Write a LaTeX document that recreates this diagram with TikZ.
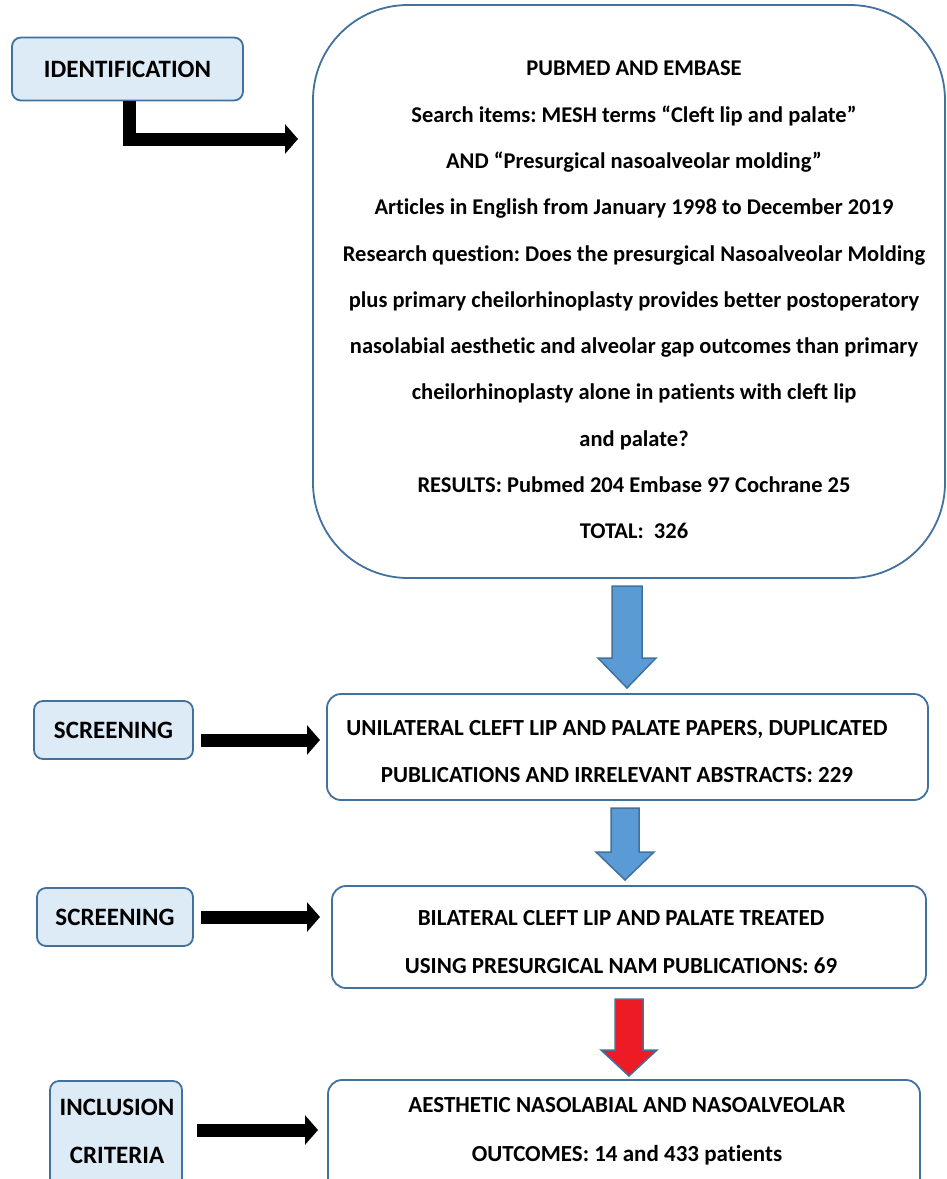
\documentclass[tikz,border=0pt]{standalone}
\usepackage{fontspec}
\setmainfont{Carlito}[Ligatures=NoCommon]
\usetikzlibrary{arrows.meta,calc}
\definecolor{bord}{HTML}{41719C}
\definecolor{lblue}{HTML}{DDEBF7}
\definecolor{ablue}{HTML}{5B9BD5}
\definecolor{ared}{HTML}{ED1C24}
\frenchspacing
\begin{document}
\begin{tikzpicture}[x=1pt,y=-1pt,
  lbl/.style={draw=bord, fill=lblue, rounded corners=9pt, line width=1.8pt, font=\fontsize{25}{48}\selectfont\bfseries, align=center, inner sep=0pt},
  wbox/.style={draw=bord, fill=white, rounded corners=14pt, line width=1.8pt, inner sep=0pt},
  btxt/.style={font=\fontsize{23}{47}\selectfont\bfseries, align=center, inner sep=0pt},
  mtxt/.style={font=\fontsize{22.5}{46.3}\selectfont\bfseries, align=center, inner sep=0pt},
  blk/.style={line width=13pt, -{Triangle[length=13pt,width=29pt]}, black},
  barrow/.style={draw=bord, line width=1.5pt, line join=miter}
]
\useasboundingbox (0,0) rectangle (947,1179);
\clip (0,0) rectangle (947,1179);
% label boxes
\node[lbl, minimum width=231, minimum height=63] (ident) at (127.5,69) {IDENTIFICATION};
\node[lbl, minimum width=159, minimum height=58] (scr1) at (113.5,730) {SCREENING};
\node[lbl, minimum width=156, minimum height=58] (scr2) at (115,917) {SCREENING};
\node[lbl, minimum width=132, minimum height=112] (incl) at (116,1137) {};
\node[btxt, font=\fontsize{25}{48}\selectfont\bfseries] (incltxt) at (117,1131) {INCLUSION\\CRITERIA};
% main box
\node[wbox, rounded corners=95pt, minimum width=632, minimum height=573] (main) at (629,291.5) {};
\node[mtxt] (maintxt) at (634,300) {PUBMED AND EMBASE\\
Search items: MESH terms “Cleft lip and palate”\\
AND “Presurgical nasoalveolar molding”\\
Articles in English from January 1998 to December 2019\\
Research question: Does the presurgical Nasoalveolar Molding\\
plus primary cheilorhinoplasty provides better postoperatory\\
nasolabial aesthetic and alveolar gap outcomes than primary\\
cheilorhinoplasty alone in patients with cleft lip\\
and palate?\\
RESULTS: Pubmed 204 Embase 97 Cochrane 25\\
TOTAL:~~326};
% other boxes
\node[wbox, minimum width=601, minimum height=106] (box2) at (627.5,747) {};
\node[btxt] (box2txt) at (617,752) {UNILATERAL CLEFT LIP AND PALATE PAPERS, DUPLICATED\\PUBLICATIONS AND IRRELEVANT ABSTRACTS: 229};
\node[wbox, minimum width=594, minimum height=102] (box3) at (629,937) {};
\node[btxt, font=\fontsize{23}{48}\selectfont\bfseries] (box3txt) at (621,942) {BILATERAL CLEFT LIP AND PALATE TREATED\\USING PRESURGICAL NAM PUBLICATIONS: 69};
\node[wbox, minimum width=592, minimum height=130] (box4) at (624,1145) {};
\node[btxt, font=\fontsize{23}{49}\selectfont\bfseries] (box4txt) at (627,1131) {AESTHETIC NASOLABIAL AND NASOALVEOLAR\\OUTCOMES: 14 and 433 patients};
% black arrows
\coordinate (e1) at (298,139);
\draw[blk] ([xshift=1.5pt]ident.south) |- (e1);
\coordinate (s2) at (201,740);
\coordinate (e2) at (320,740);
\draw[blk] (s2) -- (e2);
\coordinate (s3) at (201,917);
\coordinate (e3) at (320,917);
\draw[blk] (s3) -- (e3);
\coordinate (s4) at (197,1130);
\coordinate (e4) at (318,1130);
\draw[blk] (s4) -- (e4);
% block arrows
\coordinate (b1) at (627,586);
\draw[barrow, fill=ablue] ($(b1)+(-15,0)$) -- ($(b1)+(15,0)$) -- ($(b1)+(15,72)$) -- ($(b1)+(29,72)$) -- ($(b1)+(0,102)$) -- ($(b1)+(-29,72)$) -- ($(b1)+(-15,72)$) -- cycle;
\coordinate (b2) at (625,808);
\draw[barrow, fill=ablue] ($(b2)+(-14,0)$) -- ($(b2)+(14,0)$) -- ($(b2)+(14,44)$) -- ($(b2)+(29,44)$) -- ($(b2)+(0,72)$) -- ($(b2)+(-29,44)$) -- ($(b2)+(-14,44)$) -- cycle;
\coordinate (b3) at (629,999);
\draw[barrow, fill=ared] ($(b3)+(-14,0)$) -- ($(b3)+(14,0)$) -- ($(b3)+(14,51)$) -- ($(b3)+(28,51)$) -- ($(b3)+(0,77)$) -- ($(b3)+(-28,51)$) -- ($(b3)+(-14,51)$) -- cycle;
\end{tikzpicture}
\end{document}
